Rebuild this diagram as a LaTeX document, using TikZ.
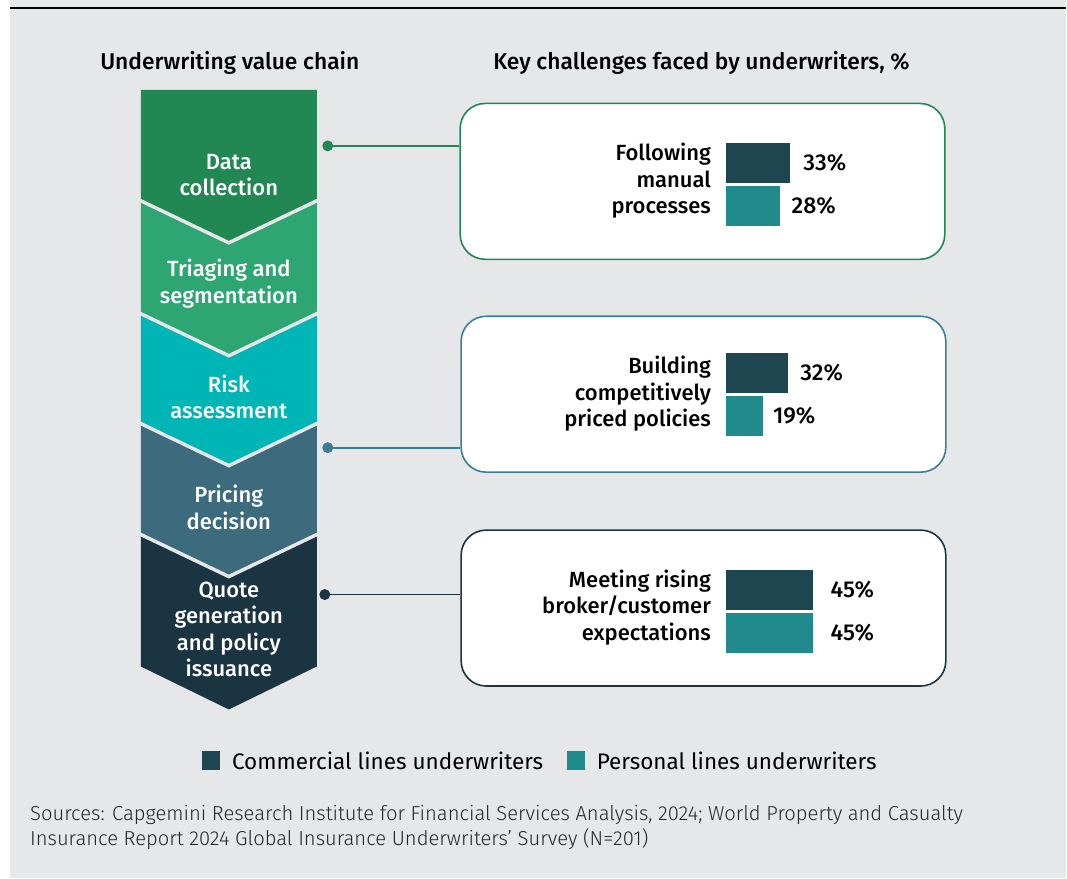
\documentclass[tikz,border=0pt]{standalone}
\usepackage{fontspec}
\setmainfont{Fira Sans}[BoldFont={Fira Sans Medium}]
\newfontfamily\srcfont{Fira Sans Light}
\usetikzlibrary{positioning}

\definecolor{bg}{HTML}{E6E7E9}
\definecolor{stepA}{HTML}{228853}
\definecolor{stepB}{HTML}{2EA673}
\definecolor{stepC}{HTML}{00B5B5}
\definecolor{stepD}{HTML}{3B6B7D}
\definecolor{stepE}{HTML}{1B3442}
\definecolor{lineB}{HTML}{3B7F94}
\definecolor{barcom}{HTML}{1D4650}
\definecolor{barper}{HTML}{218A8C}

\newcommand{\chev}[4]{% color, top y, notch depth (0 = flat), bottom y
 \fill[#1] (141,#2) -- (229,#2+#3) -- (317,#2) -- (317,#4) -- (229,#4+43) -- (141,#4) -- cycle;
}

\begin{document}
\begin{tikzpicture}[x=1pt,y=-1pt,
  steptext/.style={text=white, align=center, font=\fontsize{22}{26.5}\selectfont\bfseries},
  head/.style={font=\fontsize{22.8}{24}\selectfont\bfseries},
  dot/.style={circle, fill=#1, inner sep=0pt, minimum size=11pt},
  chbox/.style={draw=#1, line width=1.6pt, fill=white, rounded corners=25pt,
    minimum width=485pt, minimum height=156pt},
  lbl/.style={anchor=east, align=right, font=\fontsize{22}{26.5}\selectfont\bfseries},
  barc/.style={fill=barcom, anchor=west, inner sep=0pt, minimum height=40pt, minimum width=#1*1.95pt},
  barp/.style={fill=barper, anchor=west, inner sep=0pt, minimum height=40pt, minimum width=#1*1.95pt},
  pct/.style={font=\fontsize{23}{24}\selectfont\bfseries, inner sep=0pt},
  legsq/.style={fill=#1, inner sep=0pt, minimum width=18pt, minimum height=19pt},
  legtext/.style={anchor=west, font=\fontsize{22.5}{24}\selectfont, inner sep=0pt}]

% background and top rule
\fill[bg] (10,0) rectangle (1067,879);
\fill[white] (0,0) rectangle (10,879);
\draw[line width=1.6pt] (10,8) -- (1067,8);
\useasboundingbox (0,0) rectangle (1067,879);

% headings
\node[head] (h1) at (230,63) {Underwriting value chain};
\node[head] (h2) at (702,63) {Key challenges faced by underwriters, \%};

% value chain
\chev{stepE}{534}{43}{667}
\chev{stepD}{423}{43}{534}
\chev{stepC}{313}{43}{423}
\chev{stepB}{200}{43}{313}
\chev{stepA}{90}{0}{200}
\foreach \y in {200,313,423,534}
  \draw[bg, line width=3.5pt] (139,\y) -- (229,\y+43) -- (319,\y);

\node[steptext] (s1) at (229,175) {Data\\collection};
\node[steptext] (s2) at (229,284) {Triaging and\\segmentation};
\node[steptext] (s3) at (229,397) {Risk\\assessment};
\node[steptext] (s4) at (229,508) {Pricing\\decision};
\node[steptext] (s5) at (229,630) {Quote\\generation\\and policy\\issuance};

% challenge boxes
\node[chbox=stepA] (b1) at (703,181.5) {};
\node[chbox=lineB] (b2) at (704,394.5) {};
\node[chbox=stepE] (b3) at (704,608.5) {};

\node[dot=stepA] (d1) at (328,146) {};
\node[dot=lineB] (d2) at (328,448) {};
\node[dot=stepE] (d3) at (325,595) {};
\draw[stepA, line width=1.8pt] (d1) -- (d1 -| b1.west);
\draw[lineB, line width=1.8pt] (d2) -- (d2 -| b2.west);
\draw[stepE, line width=1.8pt] (d3) -- (d3 -| b3.west);

% bars
\node[lbl] (l1) at (715,181) {Following\\manual\\processes};
\node[barc=33] (c1) at (726,163) {};
\node[barp=28] (p1) at (726,206) {};
\node[pct, right=13pt of c1] (c1v) {33\%};
\node[pct, right=11pt of p1] (p1v) {28\%};

\node[lbl] (l2) at (715,394) {Building\\competitively\\priced policies};
\node[barc=32] (c2) at (726,373) {};
\node[barp=19] (p2) at (726,416) {};
\node[pct, right=12pt of c2] (c2v) {32\%};
\node[pct, right=10pt of p2] (p2v) {19\%};

\node[lbl] (l3) at (715,608) {Meeting rising\\broker/customer\\expectations};
\node[barc=45] (c3) at (726,590) {};
\node[barp=45] (p3) at (726,633) {};
\node[pct, right=17pt of c3] (c3v) {45\%};
\node[pct, right=17pt of p3] (p3v) {45\%};

% legend
\node[legsq=barcom] (k1) at (211,761.5) {};
\node[legtext] (k1t) at (232,761) {Commercial lines underwriters};
\node[legsq=barper] (k2) at (576,761.5) {};
\node[legtext] (k2t) at (597,761) {Personal lines underwriters};

% sources
\node[anchor=west, align=left, inner sep=0pt, text=black!85,
  font=\fontsize{20.2}{25}\selectfont\srcfont] (src) at (30,828)
  {Sources: Capgemini Research Institute for Financial Services Analysis, 2024; World Property and Casualty\\
   Insurance Report 2024 Global Insurance Underwriters’ Survey (N=201)};
\end{tikzpicture}
\end{document}
